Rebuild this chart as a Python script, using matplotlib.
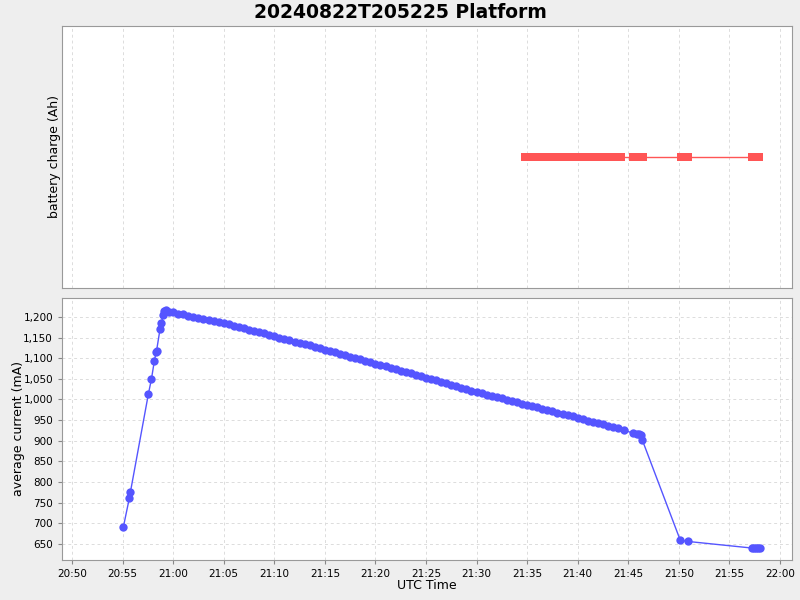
from matplotlib import pyplot as plt
import matplotlib.dates as mdates
import matplotlib.ticker as mticker
import pandas as pd

# minutes after 20:00 UTC on 2024-08-22
current_minutes = [
    55.07, 55.67, 55.77, 57.55, 57.85, 58.14, 58.31, 58.36, 58.70, 58.83, 59.03, 59.13, 59.30, 59.6,
    60.0, 60.5, 61.0, 61.5, 62.0, 62.5, 63.0, 63.5, 64.0, 64.5, 65.0,
    65.5, 66.0, 66.5, 67.0, 67.5, 68.0, 68.5, 69.0, 69.5, 70.0,
    70.5, 71.0, 71.5, 72.0, 72.5, 73.0, 73.5, 74.0, 74.5, 75.0,
    75.5, 76.0, 76.5, 77.0, 77.5, 78.0, 78.5, 79.0, 79.5, 80.0,
    80.5, 81.0, 81.5, 82.0, 82.5, 83.0, 83.5, 84.0, 84.5, 85.0,
    85.5, 86.0, 86.5, 87.0, 87.5, 88.0, 88.5, 89.0, 89.5, 90.0,
    90.5, 91.0, 91.5, 92.0, 92.5, 93.0, 93.5, 94.0, 94.5, 95.0,
    95.5, 96.0, 96.5, 97.0, 97.5, 98.0, 98.5, 99.0, 99.5, 100.0,
    100.5, 101.0, 101.5, 102.0, 102.5, 103.0, 103.5, 104.0, 104.6,
    105.46, 105.9, 106.1, 106.25, 106.4, 110.14, 110.86,
    117.2, 117.4, 117.6, 117.8, 118.0,
]
current_ma = [
    690, 761, 775, 1013, 1049, 1093, 1114, 1118, 1170, 1185, 1205, 1215, 1216, 1213,
    1211, 1208, 1206, 1203, 1201, 1198, 1195, 1193, 1190, 1188, 1185,
    1182, 1179, 1175, 1172, 1169, 1166, 1163, 1160, 1156, 1153,
    1150, 1147, 1143, 1140, 1137, 1134, 1131, 1128, 1124, 1121,
    1118, 1114, 1111, 1107, 1104, 1101, 1097, 1094, 1090, 1087,
    1084, 1080, 1077, 1073, 1070, 1066, 1063, 1059, 1056, 1052,
    1049, 1046, 1042, 1039, 1035, 1032, 1028, 1025, 1021, 1018,
    1015, 1012, 1009, 1006, 1003, 999, 996, 993, 990, 987,
    984, 981, 978, 975, 972, 968, 965, 962, 959, 956,
    953, 949, 946, 943, 940, 936, 933, 930, 926,
    918, 917, 916, 915, 901, 659, 656,
    640, 640, 640, 639, 639,
]

charge_minutes = [
    94.8, 95.3, 95.8, 96.3, 96.8, 97.3, 97.8, 98.3, 98.8, 99.3, 99.8,
    100.3, 100.8, 101.3, 101.8, 102.3, 102.8, 103.3, 103.8, 104.3,
    105.5, 106.0, 106.5, 110.2, 110.5, 110.9, 117.2, 117.5, 117.9,
]
charge_ah = [0.0] * len(charge_minutes)

t0 = pd.Timestamp('2024-08-22 20:00:00')


def to_times(minutes):
    return [t0 + pd.Timedelta(minutes=m) for m in minutes]


def style_axes(ax):
    ax.set_facecolor('white')
    for s in ax.spines.values():
        s.set_color('#999999')
    ax.grid(True, color='#dcdcdc', linestyle=(0, (3, 3)), linewidth=0.7)
    ax.tick_params(colors='#888888', labelcolor='black', labelsize=7.5, length=3)


fig = plt.figure(figsize=(8, 6), dpi=100, facecolor='#eeeeee')
ax1 = fig.add_axes([0.0775, 0.52, 0.9125, 0.4367])
ax2 = fig.add_axes([0.0775, 0.0667, 0.9125, 0.4367])

fig.suptitle('20240822T205225 Platform', fontsize=13.5, fontweight='bold', y=0.995)

ax1.plot(to_times(charge_minutes), charge_ah, color='#ff5555', linewidth=1,
         marker='s', markersize=6, markeredgewidth=0)
style_axes(ax1)
ax1.grid(True, axis='x')
ax1.grid(False, axis='y')
ax1.set_ylim(-1, 1)
ax1.set_yticks([])
ax1.tick_params(axis='x', bottom=False, labelbottom=False)
ax1.set_ylabel('battery charge (Ah)', fontsize=9)
ax1.yaxis.set_label_coords(-0.002, 0.5)

ax2.plot(to_times(current_minutes), current_ma, color='#5555ff', linewidth=1,
         marker='o', markersize=6, markeredgewidth=0)
style_axes(ax2)
ax2.set_ylim(611, 1246)
ax2.yaxis.set_major_locator(mticker.MultipleLocator(50))
ax2.yaxis.set_major_formatter(mticker.FuncFormatter(lambda v, p: f'{v:,.0f}'))
ax2.set_ylabel('average current (mA)', fontsize=9)
ax2.yaxis.set_label_coords(-0.05, 0.5)
ax2.set_xlabel('UTC Time', fontsize=9)
ax2.xaxis.set_label_coords(0.5, -0.072)

xmin = t0 + pd.Timedelta(minutes=49.01)
xmax = t0 + pd.Timedelta(minutes=121.19)
for ax in (ax1, ax2):
    ax.set_xlim(xmin, xmax)
    ax.xaxis.set_major_locator(mdates.MinuteLocator(byminute=range(0, 60, 5)))
    ax.xaxis.set_major_formatter(mdates.DateFormatter('%H:%M'))

fig.savefig('out.png', dpi=100, facecolor=fig.get_facecolor())
